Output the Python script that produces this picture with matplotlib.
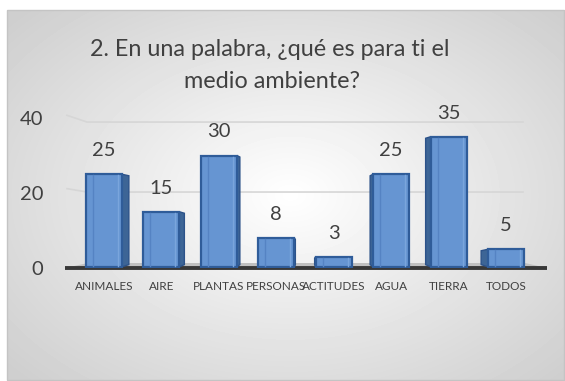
import matplotlib.pyplot as plt
import numpy as np
from matplotlib.patches import Polygon, Rectangle

plt.rcParams['font.family'] = ['Lato', 'DejaVu Sans']

categorias = ['ANIMALES', 'AIRE', 'PLANTAS', 'PERSONAS', 'ACTITUDES', 'AGUA', 'TIERRA', 'TODOS']
valores = [25, 15, 30, 8, 3, 25, 35, 5]
titulo = ['2. En una palabra, ¿qué es para ti el', 'medio ambiente?']
ticks_y = [0, 20, 40]

gris = '#404040'

fig = plt.figure(figsize=(5.65, 3.81), dpi=100, facecolor='white')

# fondo con degradado radial (pixeles)
bg = fig.add_axes([0, 0, 1, 1])
bg.set_xlim(0, 565)
bg.set_ylim(381, 0)
bg.axis('off')
yy, xx = np.mgrid[10:381, 7:565]
d = np.sqrt(((xx - 290) / 290.0) ** 2 + ((yy - 195) / 200.0) ** 2)
img = 1 - 0.19 * np.clip(d, 0, 1.3) / 1.3
bg.imshow(img, cmap='gray', vmin=0, vmax=1, extent=(7, 565, 381, 10),
          interpolation='bilinear', aspect='auto')
bg.add_patch(Rectangle((7, 10), 557, 370, fill=False, ec='#c4c4c4', lw=1))

bg.text(270, 50, titulo[0], ha='center', va='center', fontsize=16.8, color=gris)
bg.text(272, 81, titulo[1], ha='center', va='center', fontsize=16.8, color=gris)

ax = fig.add_axes([75 / 565, 113 / 381, 460 / 565, 150 / 381])
ax.set_xlim(-0.5, 7.5)
ax.set_ylim(0, 40)
ax.patch.set_alpha(0)
for s in ax.spines.values():
    s.set_visible(False)


def px_x(p):
    return (p - 75) / 57.5 - 0.5


def px_y(p):
    return (268 - p) / 3.75


# lineas de cuadricula (pared del fondo)
for t in ticks_y[1:]:
    gy = 1.6 + 0.933 * t
    ax.plot([px_x(67), px_x(87), px_x(523)], [gy + 1.8 * t / 40, gy, gy],
            color='#d6d6d6', lw=1.2, clip_on=False, zorder=1)

# piso
ax.add_patch(Polygon([(px_x(65), 0), (px_x(547), 0), (px_x(525), px_y(263)), (px_x(88), px_y(263))],
                     closed=True, fc='#c0c0c0', ec='none', clip_on=False, zorder=1))
ax.plot([px_x(65), px_x(547)], [0, 0], color='#383838', lw=2.8, clip_on=False, zorder=2,
        solid_capstyle='butt')

w = 0.63
for i, v in enumerate(valores):
    x0 = i - w / 2
    x1 = i + w / 2
    dx = (7 - 2 * i) / 57.5
    xe = x1 if dx > 0 else x0
    ax.add_patch(Polygon([(xe, 0.3), (xe, v), (xe + dx, v - 0.4), (xe + dx, 0.9)],
                         closed=True, fc='#3d6596', ec='#2c5289', lw=1, zorder=3))
    ax.add_patch(Rectangle((x0, 0.3), w, v - 0.3, fc='#6695d2', ec='#2f5c99', lw=1.6, zorder=4))
    ax.plot([x0 + 0.2 * w, x0 + 0.2 * w], [0.6, v - 0.3], color='#5583c3', lw=1, zorder=5)
    ax.plot([x1 - 0.12 * w, x1 - 0.12 * w], [0.6, v - 0.3], color='#7aa5dc', lw=1, zorder=5)
    ax.annotate(str(v), (i, v), xytext=(0, 13), textcoords='offset points',
                ha='center', va='baseline', fontsize=14.5, color=gris)

ax.set_yticks(ticks_y)
ax.set_xticks(range(len(categorias)))
ax.set_xticklabels(categorias)
ax.tick_params(axis='y', length=0, pad=23, labelsize=14.5, labelcolor=gris)
ax.tick_params(axis='x', length=0, pad=9, labelsize=8.5, labelcolor=gris)

fig.savefig('out.png', dpi=100)
